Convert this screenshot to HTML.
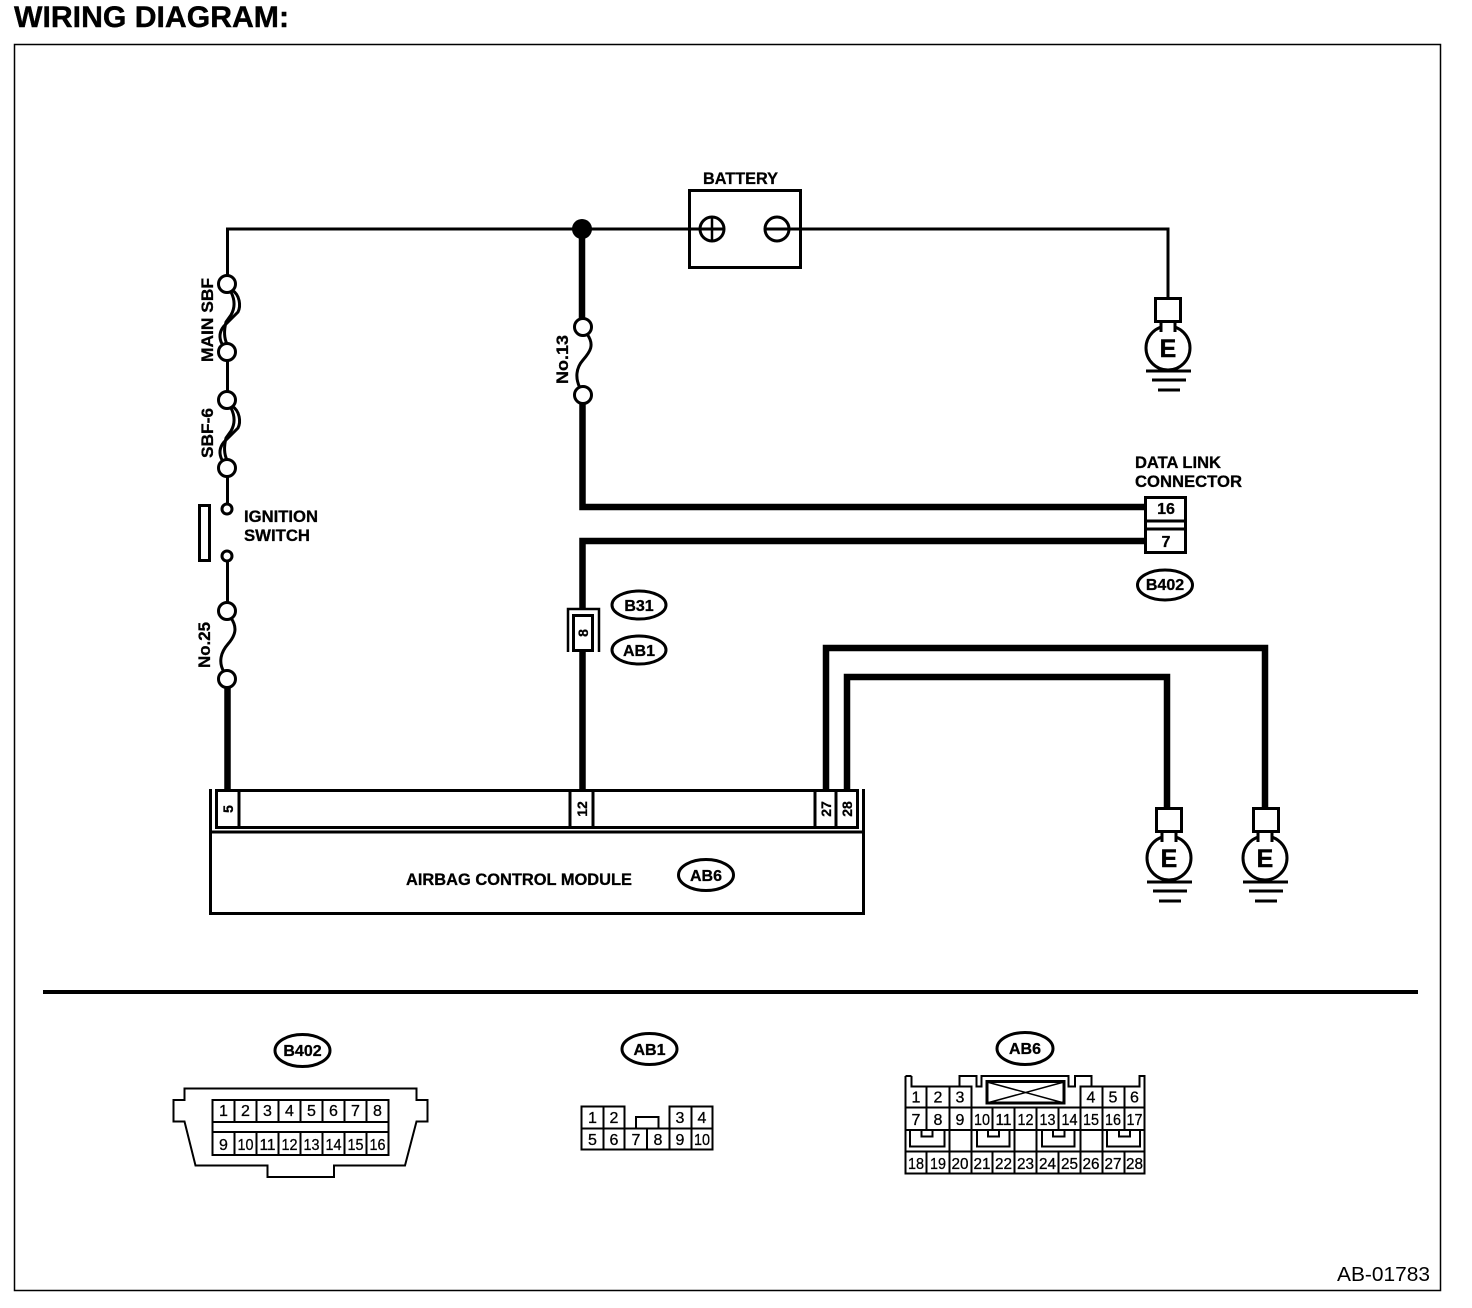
<!DOCTYPE html>
<html>
<head>
<meta charset="utf-8">
<style>
html,body{margin:0;padding:0;background:#fff;}
svg{display:block;}
text{font-family:"Liberation Sans",sans-serif;fill:#000;stroke:none;}
.b{font-weight:bold;stroke:#000;stroke-width:.4px;}
.l{font-size:16.5px;font-weight:bold;stroke:#000;stroke-width:.3px;}
.o{font-size:16px;font-weight:bold;text-anchor:middle;stroke:#000;stroke-width:.3px;}
.p{font-size:14px;font-weight:bold;text-anchor:middle;stroke:#000;stroke-width:.3px;}
.n{font-size:16px;text-anchor:middle;stroke:#000;stroke-width:.3px;}
.t{fill:none;stroke:#000;stroke-width:3;}
.k{fill:none;stroke:#000;stroke-width:6.5;}
.c{fill:#fff;stroke:#000;stroke-width:3;}
.g{fill:none;stroke:#000;stroke-width:2;}
</style>
</head>
<body>
<svg width="1472" height="1308" viewBox="0 0 1472 1308" xmlns="http://www.w3.org/2000/svg">
<rect width="1472" height="1308" fill="#fff"/>
<text x="14" y="27" class="b" font-size="30" textLength="275" lengthAdjust="spacingAndGlyphs">WIRING DIAGRAM:</text>
<rect x="14.5" y="44.5" width="1426" height="1246" fill="none" stroke="#000" stroke-width="1.5"/>

<!-- top wires -->
<path class="t" d="M227.5 277V229H689"/>
<path class="t" d="M800 229H1168V298"/>
<circle cx="582" cy="229" r="10"/>
<path class="k" d="M582 229V320"/>
<path class="k" d="M582.500 402V507H1146"/>
<path class="k" d="M1146 541H582.500V608"/>
<path class="k" d="M582.500 650V792"/>
<path class="k" d="M227.500 686V792"/>
<path class="k" d="M826 792V648H1265V808"/>
<path class="k" d="M847 792V677H1167V808"/>

<!-- battery -->
<rect x="689.500" y="190.500" width="111" height="77" fill="none" stroke="#000" stroke-width="3"/>
<path class="t" d="M689 229H724M765 229H800"/>
<circle cx="712" cy="229" r="12" fill="none" stroke="#000" stroke-width="3"/>
<path d="M712 217V241" stroke="#000" stroke-width="2.500"/>
<circle cx="777" cy="229" r="12" fill="none" stroke="#000" stroke-width="3"/>
<text x="703" y="184" class="l" textLength="75" lengthAdjust="spacingAndGlyphs">BATTERY</text>

<!-- No.13 fuse -->
<path class="t" d="M587 334C595 345 590 352 583 360C576 368 575 378 580 388"/>
<circle class="c" cx="583" cy="327" r="8.500"/>
<circle class="c" cx="583" cy="395" r="8.500"/>
<text transform="translate(568,384) rotate(-90)" class="l" textLength="49" lengthAdjust="spacingAndGlyphs">No.13</text>

<!-- Left column -->
<path class="t" d="M227.500 352V392M227.500 468V503M227.500 561V603"/>
<path class="t" d="M232 290C240 295 241 306 238 312L224 326C219 332 219 338 222 344"/>
<path class="t" d="M231 292C235 300 235 308 231 315L226 322C224 330 224 338 227 344"/>
<circle class="c" cx="227" cy="284" r="8.500"/>
<circle class="c" cx="227" cy="352" r="8.500"/>
<path class="t" d="M232 406C240 411 241 422 238 428L224 442C219 448 219 454 222 460"/>
<path class="t" d="M231 408C235 416 235 424 231 431L226 438C224 446 224 454 227 460"/>
<circle class="c" cx="227" cy="400" r="8.500"/>
<circle class="c" cx="227" cy="468" r="8.500"/>
<text transform="translate(213,362) rotate(-90)" class="l" textLength="84" lengthAdjust="spacingAndGlyphs">MAIN SBF</text>
<text transform="translate(213,458) rotate(-90)" class="l" textLength="50" lengthAdjust="spacingAndGlyphs">SBF-6</text>
<circle class="c" cx="227" cy="509" r="5"/>
<circle class="c" cx="227" cy="556" r="5"/>
<rect x="199.500" y="505.500" width="10" height="55" fill="none" stroke="#000" stroke-width="3"/>
<text x="244" y="522" class="l" textLength="74" lengthAdjust="spacingAndGlyphs">IGNITION</text>
<text x="244" y="541" class="l" textLength="66" lengthAdjust="spacingAndGlyphs">SWITCH</text>
<path class="t" d="M231 618C238 628 235 636 228 644C221 652 218 662 224 672"/>
<circle class="c" cx="227" cy="611" r="8.500"/>
<circle class="c" cx="227" cy="679" r="8.500"/>
<text transform="translate(210,668) rotate(-90)" class="l" textLength="46" lengthAdjust="spacingAndGlyphs">No.25</text>

<!-- Data link connector -->
<rect x="1145.500" y="497.500" width="40" height="55" fill="#fff" stroke="#000" stroke-width="3"/>
<path class="t" d="M1145 521H1186M1145 529H1186"/>
<text x="1135" y="468" class="l" textLength="86" lengthAdjust="spacingAndGlyphs">DATA LINK</text>
<text x="1135" y="487" class="l" textLength="107" lengthAdjust="spacingAndGlyphs">CONNECTOR</text>
<text x="1166" y="514" class="o">16</text>
<text x="1166" y="547" class="o">7</text>
<ellipse cx="1165" cy="585" rx="27.500" ry="15" fill="none" stroke="#000" stroke-width="3"/>
<text x="1165" y="590" class="o">B402</text>

<!-- connector 8 -->
<path d="M568 652V609H599V652" fill="#fff" stroke="#000" stroke-width="2.500"/>
<rect x="573.500" y="615.500" width="19" height="35" fill="#fff" stroke="#000" stroke-width="3"/>
<text transform="translate(588,633) rotate(-90)" class="p">8</text>
<ellipse cx="639" cy="605" rx="27" ry="14" fill="none" stroke="#000" stroke-width="3"/>
<text x="639" y="611" class="o">B31</text>
<ellipse cx="639" cy="650" rx="27" ry="14" fill="none" stroke="#000" stroke-width="3"/>
<text x="639" y="656" class="o">AB1</text>

<!-- Ground 1 -->
<circle class="c" cx="1168" cy="348" r="22"/>
<path d="M1162 327H1174" stroke="#fff" stroke-width="5"/>
<path class="t" d="M1161 321V332M1175 321V332"/>
<rect x="1155.500" y="298.500" width="25" height="23" fill="#fff" stroke="#000" stroke-width="3"/>
<path class="t" d="M1146 371H1191M1152 380H1186M1158 390H1180"/>
<text x="1168" y="357" class="b" font-size="25" text-anchor="middle">E</text>

<!-- Ground 2 -->
<circle class="c" cx="1169" cy="858" r="22"/>
<path d="M1163 837H1175" stroke="#fff" stroke-width="5"/>
<path class="t" d="M1162 831V842M1176 831V842"/>
<rect x="1156.500" y="808.500" width="25" height="23" fill="#fff" stroke="#000" stroke-width="3"/>
<path class="t" d="M1147 882H1192M1153 891H1187M1159 901H1181"/>
<text x="1169" y="867" class="b" font-size="25" text-anchor="middle">E</text>

<!-- Ground 3 -->
<circle class="c" cx="1265" cy="858" r="22"/>
<path d="M1259 837H1271" stroke="#fff" stroke-width="5"/>
<path class="t" d="M1258 831V842M1272 831V842"/>
<rect x="1253.500" y="808.500" width="25" height="23" fill="#fff" stroke="#000" stroke-width="3"/>
<path class="t" d="M1243 882H1288M1249 891H1283M1255 901H1277"/>
<text x="1265" y="867" class="b" font-size="25" text-anchor="middle">E</text>

<!-- Module -->
<path class="t" d="M210.500 789V913.500H863.500V789"/>
<path class="t" d="M210 832H864"/>
<rect x="216.500" y="790.500" width="641" height="37" fill="#fff" stroke="#000" stroke-width="3"/>
<path class="t" d="M239 790V828M570 790V828M593 790V828M815 790V828M836 790V828"/>
<text transform="translate(233,809) rotate(-90)" class="p">5</text>
<text transform="translate(587,809) rotate(-90)" class="p">12</text>
<text transform="translate(831,809) rotate(-90)" class="p">27</text>
<text transform="translate(852,809) rotate(-90)" class="p">28</text>
<text x="406" y="885" class="l" textLength="226" lengthAdjust="spacingAndGlyphs">AIRBAG CONTROL MODULE</text>
<ellipse cx="706" cy="875" rx="27.500" ry="15.500" fill="none" stroke="#000" stroke-width="3"/>
<text x="706" y="881" class="o">AB6</text>

<!-- divider -->
<path d="M43 992H1418" stroke="#000" stroke-width="4"/>
<text x="1337" y="1281" font-size="20" textLength="93" lengthAdjust="spacingAndGlyphs">AB-01783</text>

<!-- B402 connector -->
<ellipse cx="302.500" cy="1050.500" rx="27.500" ry="16" fill="none" stroke="#000" stroke-width="3"/>
<text x="302.500" y="1056" class="o">B402</text>
<path class="g" d="M184.500 1088.500H416.500V1100H427.500V1121.500H416.500L405 1165.500H334V1177H267.500V1165.500H195.500L184.500 1121.500H173.500V1100H184.500Z"/>
<path class="g" d="M212.500 1100H388.500V1155H212.500ZM212.500 1122H388.500M212.500 1132H388.500M234.500 1100V1122M256.500 1100V1122M278.500 1100V1122M300.500 1100V1122M322.500 1100V1122M344.500 1100V1122M366.500 1100V1122M234.500 1132V1155M256.500 1132V1155M278.500 1132V1155M300.500 1132V1155M322.500 1132V1155M344.500 1132V1155M366.500 1132V1155"/>
<text x="223.500" y="1116" class="n">1</text><text x="245.500" y="1116" class="n">2</text><text x="267.500" y="1116" class="n">3</text><text x="289.500" y="1116" class="n">4</text><text x="311.500" y="1116" class="n">5</text><text x="333.500" y="1116" class="n">6</text><text x="355.500" y="1116" class="n">7</text><text x="377.500" y="1116" class="n">8</text>
<text x="223.500" y="1150" class="n">9</text><text x="245.500" y="1150" class="n" textLength="16" lengthAdjust="spacingAndGlyphs">10</text><text x="267.500" y="1150" class="n" textLength="16" lengthAdjust="spacingAndGlyphs">11</text><text x="289.500" y="1150" class="n" textLength="16" lengthAdjust="spacingAndGlyphs">12</text><text x="311.500" y="1150" class="n" textLength="16" lengthAdjust="spacingAndGlyphs">13</text><text x="333.500" y="1150" class="n" textLength="16" lengthAdjust="spacingAndGlyphs">14</text><text x="355.500" y="1150" class="n" textLength="16" lengthAdjust="spacingAndGlyphs">15</text><text x="377.500" y="1150" class="n" textLength="16" lengthAdjust="spacingAndGlyphs">16</text>

<!-- AB1 connector -->
<ellipse cx="649.500" cy="1049" rx="27.500" ry="15.500" fill="none" stroke="#000" stroke-width="3"/>
<text x="649.500" y="1055" class="o">AB1</text>
<path class="g" d="M581.500 1128.500V1106.500H624.500V1128.500M603.500 1106.500V1149.500M669.500 1128.500V1106.500H712.500V1128.500M691.500 1106.500V1149.500M636 1128.500V1117H658.500V1128.500M581.500 1128.500H712.500M581.500 1128.500V1149.500H712.500V1128.500M624.500 1128.500V1149.500M647 1128.500V1149.500M669.500 1128.500V1149.500"/>
<text x="592.500" y="1123" class="n">1</text><text x="614" y="1123" class="n">2</text><text x="680" y="1123" class="n">3</text><text x="702" y="1123" class="n">4</text>
<text x="592.500" y="1145" class="n">5</text><text x="614" y="1145" class="n">6</text><text x="636" y="1145" class="n">7</text><text x="658" y="1145" class="n">8</text><text x="680" y="1145" class="n">9</text><text x="702" y="1145" class="n" textLength="16" lengthAdjust="spacingAndGlyphs">10</text>

<!-- AB6 connector -->
<ellipse cx="1025" cy="1048.500" rx="28" ry="16" fill="none" stroke="#000" stroke-width="3"/>
<text x="1025" y="1054" class="o">AB6</text>
<path class="g" d="M905.500 1076V1173.500H1144.500V1076H1139.500V1086.500H1080.500V1107.500H971.500V1086.500H959.500V1076H976.500V1086.500H981.500V1076H1068.500V1086.500H1075V1076H1091.500V1086.500M911.500 1076V1086.500H971.500M905.500 1076H911.500M1139.500 1076H1144.500"/>
<path class="g" d="M905.500 1107.500H1144.500M905.500 1130H1144.500M905.500 1151.500H1144.500M926.500 1086.500V1130M949.500 1086.500V1173.500M971.500 1107.500V1173.500M1080.500 1086.500V1173.500M1102.500 1086.500V1173.500M1124.500 1086.500V1130M992.500 1107.500V1130M1014.500 1107.500V1173.500M1036.500 1107.500V1173.500M1058.500 1107.500V1130M926.500 1151.500V1173.500M992.500 1151.500V1173.500M1058.500 1151.500V1173.500M1124.500 1151.500V1173.500"/>
<rect x="987" y="1081.500" width="77" height="21.500" fill="#fff" stroke="#000" stroke-width="3"/>
<path d="M987 1082L1064 1103M987 1103L1064 1082" stroke="#000" stroke-width="1.500"/>
<path class="g" d="M910 1131V1146.500H944.500V1131M921.500 1130V1136.500H932.500V1130M977 1131V1146.500H1009.500V1131M988 1130V1136.500H999V1130M1042 1131V1146.500H1074.500V1131M1053 1130V1136.500H1064.500V1130M1107 1131V1146.500H1140V1131M1119 1130V1136.500H1130V1130"/>
<text x="916" y="1102.500" class="n">1</text><text x="938" y="1102.500" class="n">2</text><text x="960" y="1102.500" class="n">3</text><text x="1091" y="1102.500" class="n">4</text><text x="1113" y="1102.500" class="n">5</text><text x="1134.500" y="1102.500" class="n">6</text>
<text x="916" y="1125" class="n">7</text><text x="938" y="1125" class="n">8</text><text x="960" y="1125" class="n">9</text>
<text x="982" y="1125" class="n" textLength="16" lengthAdjust="spacingAndGlyphs">10</text><text x="1003.500" y="1125" class="n" textLength="16" lengthAdjust="spacingAndGlyphs">11</text><text x="1025.500" y="1125" class="n" textLength="16" lengthAdjust="spacingAndGlyphs">12</text><text x="1047.500" y="1125" class="n" textLength="16" lengthAdjust="spacingAndGlyphs">13</text><text x="1069.500" y="1125" class="n" textLength="16" lengthAdjust="spacingAndGlyphs">14</text><text x="1091" y="1125" class="n" textLength="16" lengthAdjust="spacingAndGlyphs">15</text><text x="1113" y="1125" class="n" textLength="16" lengthAdjust="spacingAndGlyphs">16</text><text x="1134.500" y="1125" class="n" textLength="16" lengthAdjust="spacingAndGlyphs">17</text>
<text x="916" y="1169" class="n" textLength="16" lengthAdjust="spacingAndGlyphs">18</text><text x="938" y="1169" class="n" textLength="16" lengthAdjust="spacingAndGlyphs">19</text><text x="960" y="1169" class="n" textLength="17" lengthAdjust="spacingAndGlyphs">20</text><text x="982" y="1169" class="n" textLength="17" lengthAdjust="spacingAndGlyphs">21</text><text x="1003.500" y="1169" class="n" textLength="17" lengthAdjust="spacingAndGlyphs">22</text><text x="1025.500" y="1169" class="n" textLength="17" lengthAdjust="spacingAndGlyphs">23</text><text x="1047.500" y="1169" class="n" textLength="17" lengthAdjust="spacingAndGlyphs">24</text><text x="1069.500" y="1169" class="n" textLength="17" lengthAdjust="spacingAndGlyphs">25</text><text x="1091" y="1169" class="n" textLength="17" lengthAdjust="spacingAndGlyphs">26</text><text x="1113" y="1169" class="n" textLength="17" lengthAdjust="spacingAndGlyphs">27</text><text x="1134.500" y="1169" class="n" textLength="17" lengthAdjust="spacingAndGlyphs">28</text>
</svg>
</body>
</html>
